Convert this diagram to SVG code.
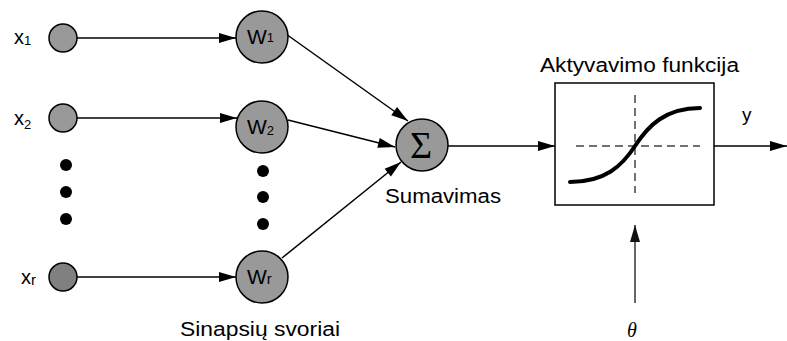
<svg xmlns="http://www.w3.org/2000/svg" width="787" height="341" viewBox="0 0 787 341">
<defs>
<marker id="ah" markerUnits="userSpaceOnUse" markerWidth="17" markerHeight="10" refX="17" refY="5" orient="auto" overflow="visible">
<path d="M0,0 L17,5 L0,10 z" fill="#000"/>
</marker>
<marker id="ahg" markerUnits="userSpaceOnUse" markerWidth="17" markerHeight="10" refX="17" refY="5" orient="auto" overflow="visible">
<path d="M0,0 L17,5 L0,10 z" fill="#111"/>
</marker>
</defs>
<style>
.n{fill:#999;stroke:#000;stroke-width:1.5}
.nd{fill:#808080;stroke:#000;stroke-width:1.5}
.t{font-family:"Liberation Sans",Arial,sans-serif;fill:#000}
.c{stroke:#000;stroke-width:1.5;fill:none;marker-end:url(#ah)}
.dot{fill:#000}
.dash{stroke:#444;stroke-width:1.5;stroke-dasharray:8 5;fill:none}
</style>
<rect width="787" height="341" fill="#fff"/>
<g id="connectors">
<line class="c" x1="77" y1="38" x2="236" y2="38"/>
<line class="c" x1="77" y1="118" x2="237" y2="118"/>
<line class="c" x1="77" y1="277" x2="236" y2="277"/>
<line class="c" x1="286" y1="34" x2="408" y2="121"/>
<line class="c" x1="288" y1="120" x2="395" y2="147"/>
<line class="c" x1="282" y1="258" x2="401" y2="162"/>
<line class="c" x1="448" y1="146" x2="555" y2="146"/>
<line class="c" x1="714" y1="146" x2="787" y2="146"/>
<line x1="635" y1="303" x2="635" y2="225" stroke="#333" stroke-width="1.5" marker-end="url(#ahg)"/>
</g>
<g id="x1"><circle class="n" cx="63" cy="38" r="14"/><text class="t" x="14" y="44" font-size="20">x<tspan font-size="13" dy="1">1</tspan></text></g>
<g id="x2"><circle class="n" cx="63" cy="118" r="14"/><text class="t" x="14" y="125" font-size="20">x<tspan font-size="13" dy="4">2</tspan></text></g>
<g id="xr"><circle class="nd" cx="63" cy="277" r="14"/><text class="t" x="21" y="284" font-size="20">x<tspan font-size="15" dy="1">r</tspan></text></g>
<g id="dots-x"><circle class="dot" cx="66" cy="165" r="6"/><circle class="dot" cx="66" cy="192" r="6"/><circle class="dot" cx="66" cy="219" r="6"/></g>
<g id="w1"><circle class="n" cx="262" cy="37" r="26"/><text class="t" x="247" y="44" font-size="21">W<tspan font-size="13" dy="-2">1</tspan></text></g>
<g id="w2"><circle class="n" cx="262" cy="127" r="26"/><text class="t" x="247" y="134" font-size="21">W<tspan font-size="13" dy="1">2</tspan></text></g>
<g id="wr"><circle class="n" cx="262" cy="277" r="26"/><text class="t" x="247" y="284" font-size="21">W<tspan font-size="15" dy="0">r</tspan></text></g>
<g id="dots-w"><circle class="dot" cx="263" cy="171" r="6"/><circle class="dot" cx="263" cy="197" r="6"/><circle class="dot" cx="263" cy="224" r="6"/></g>
<text class="t" x="180" y="336" font-size="19.5" textLength="160" lengthAdjust="spacingAndGlyphs">Sinapsių svoriai</text>
<g id="sum"><circle class="n" cx="422" cy="145" r="26"/><text x="421" y="158" font-size="38" text-anchor="middle" font-family="'Liberation Serif','Times New Roman',serif">Σ</text><text class="t" x="385" y="203" font-size="19.5" textLength="116" lengthAdjust="spacingAndGlyphs">Sumavimas</text></g>
<g id="activation">
<text class="t" x="540" y="72" font-size="19.5" textLength="199" lengthAdjust="spacingAndGlyphs">Aktyvavimo funkcija</text>
<rect x="555" y="83" width="159" height="122" fill="#fff" stroke="#000" stroke-width="1.5"/>
<line class="dash" x1="576" y1="146" x2="700" y2="146"/>
<line class="dash" x1="635" y1="95" x2="635" y2="193"/>
<path d="M570,182 C605,182 622,166 635,146 C648,126 665,108 700,108" fill="none" stroke="#000" stroke-width="4" stroke-linecap="round"/>
</g>
<text class="t" x="742" y="121" font-size="19">y</text>
<text x="627" y="337" font-size="20" font-style="italic" font-family="'Liberation Serif','Times New Roman',serif">θ</text>
</svg>
